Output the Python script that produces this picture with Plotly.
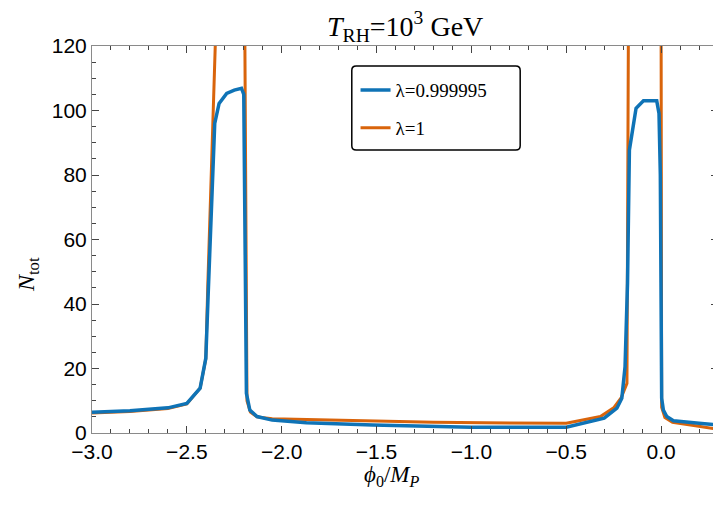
import plotly.graph_objects as go

# lambda = 0.999995 (blue)
x_blue = [-3.0, -2.8, -2.6, -2.5, -2.43, -2.40, -2.388, -2.37, -2.353, -2.33, -2.29, -2.25,
          -2.212, -2.2, -2.192, -2.186, -2.168, -2.13, -2.05, -1.87, -1.52, -1.17, -1.0,
          -0.5, -0.3, -0.233, -0.207, -0.19, -0.177, -0.167, -0.151, -0.132, -0.093,
          -0.023, -0.011, -0.004, 0.003, 0.012, 0.03, 0.065, 0.2, 0.3]
y_blue = [6.4, 6.9, 7.8, 9.2, 13.9, 23.2, 42.3, 73.0, 96.0, 102.2, 105.3, 106.3,
          106.9, 105.0, 40.0, 12.3, 7.1, 5.1, 4.0, 3.2, 2.5, 2.0, 1.8,
          1.8, 4.6, 7.7, 10.8, 20.6, 46.4, 87.8, 94.5, 100.7, 103.0,
          103.0, 99.1, 80.0, 10.8, 7.1, 5.1, 3.8, 3.0, 2.5]

# lambda = 1 (orange)
x_orange = [-3.0, -2.8, -2.6, -2.5, -2.43, -2.40, -2.39, -2.375, -2.365, -2.345, -2.195,
            -2.19, -2.183, -2.165, -2.13, -2.05, -1.5, -1.2, -0.5, -0.32, -0.25, -0.21,
            -0.18, -0.172, 0.0, 0.003, 0.02, 0.06, 0.19, 0.3]
y_orange = [6.2, 6.7, 7.6, 9.0, 13.9, 23.0, 45.0, 72.0, 88.0, 130.0, 130.0,
            60.0, 10.0, 6.5, 5.0, 4.4, 3.6, 3.3, 3.0, 5.1, 7.8, 11.0,
            15.4, 130.0, 130.0, 8.0, 4.8, 3.3, 2.2, 1.1]

x_ticks = [-3.0, -2.5, -2.0, -1.5, -1.0, -0.5, 0.0]
x_tick_text = ["−3.0", "−2.5", "−2.0", "−1.5", "−1.0", "−0.5", "0.0"]
y_ticks = [0, 20, 40, 60, 80, 100, 120]

serif = "Liberation Serif, Times New Roman, serif"
sans = "Liberation Sans, Arial, sans-serif"

fig = go.Figure()

fig.add_trace(go.Scatter(
    x=x_orange, y=y_orange, mode="lines", name="λ=1",
    line=dict(color="#d9640b", width=3), legendrank=2, legendgroup="b"
))
fig.add_trace(go.Scatter(
    x=x_blue, y=y_blue, mode="lines", name="λ=0.999995",
    line=dict(color="#0f73b6", width=3.5), legendrank=1, legendgroup="a"
))

axis_common = dict(
    showline=True, linecolor="#8a8a8a", linewidth=1, mirror="allticks",
    ticks="inside", ticklen=7, tickcolor="#444", tickwidth=1,
    showgrid=False, zeroline=False, automargin=False,
    tickfont=dict(family=sans, size=21, color="black"),
)

fig.update_xaxes(
    range=[-3.0, 0.3], tickvals=x_ticks, ticktext=x_tick_text,
    minor=dict(dtick=0.1, ticks="inside", ticklen=4, tickcolor="#444", showgrid=False),
    **axis_common
)
fig.update_yaxes(
    range=[0, 120], tickvals=y_ticks,
    minor=dict(dtick=5, ticks="inside", ticklen=4, tickcolor="#444", showgrid=False),
    **axis_common
)

# axis titles
fig.add_annotation(
    text="<i>ϕ</i><sub>0</sub>/<i>M</i><sub><i>P</i></sub>",
    xref="paper", yref="paper", x=0.48, y=-0.11, xanchor="center", yanchor="middle",
    showarrow=False, font=dict(family=serif, size=23, color="black"),
)
fig.add_annotation(
    text="<i>N</i><sub>tot</sub>",
    xref="paper", yref="paper", x=-0.101, y=0.41, xanchor="center", yanchor="middle",
    textangle=-90, showarrow=False, font=dict(family=serif, size=24, color="black"),
)

# legend frame with rounded corners
x0, x1, y0, y1 = 0.415, 0.684, 0.731, 0.948
rx, ry = 0.007, 0.011
frame = (f"M {x0 + rx},{y1} L {x1 - rx},{y1} Q {x1},{y1} {x1},{y1 - ry} "
         f"L {x1},{y0 + ry} Q {x1},{y0} {x1 - rx},{y0} L {x0 + rx},{y0} "
         f"Q {x0},{y0} {x0},{y0 + ry} L {x0},{y1 - ry} Q {x0},{y1} {x0 + rx},{y1} Z")
fig.add_shape(type="path", path=frame, xref="paper", yref="paper",
              line=dict(color="black", width=1.5), fillcolor="white", layer="below")

# page body has an 8px margin, so the figure is shifted by that much
fig.update_layout(
    width=713, height=504,
    margin=dict(l=84, r=3, t=38, b=79),
    paper_bgcolor="white", plot_bgcolor="white",
    title=dict(text="<i>T</i><sub>RH</sub>=10<sup>3</sup> GeV",
               font=dict(family=serif, size=28, color="black"),
               x=0.557, xanchor="center", y=0.964, yanchor="middle"),
    legend=dict(
        x=0.421, y=0.935, xanchor="left", yanchor="top",
        bgcolor="rgba(0,0,0,0)", borderwidth=0,
        font=dict(family=serif, size=19, color="black"),
        traceorder="grouped", tracegroupgap=10,
    ),
)

fig.write_html("out.html")
